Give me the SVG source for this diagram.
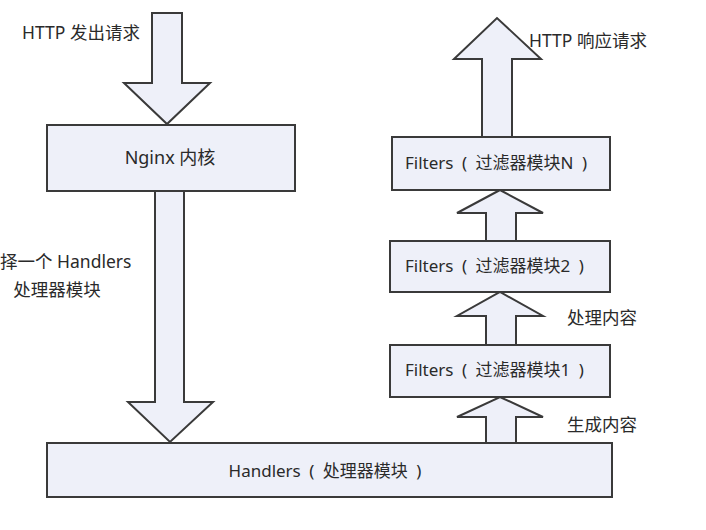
<svg xmlns="http://www.w3.org/2000/svg" width="706" height="530" viewBox="0 0 706 530">
<style>
.box{fill:#eef0f9;stroke:#3a3a3a;stroke-width:2}
.arr{fill:#eef0f9;stroke:#3a3a3a;stroke-width:2;stroke-linejoin:miter}
.t{font-family:"Noto Sans","Noto Sans CJK SC",sans-serif;fill:#2a2a2a;font-size:17px}
.lbl{font-family:"Noto Sans","Noto Sans CJK SC",sans-serif;fill:#2a2a2a;font-size:17.5px}
</style>
<rect width="706" height="530" fill="#fff"/>
<g id="connectors">
<polygon class="arr" points="152,13 182,13 182,83 210,83 167,124 124,83 152,83"/>
<polygon class="arr" points="155,191 184,191 184,402 213,402 170,442 128,402 155,402"/>
<polygon class="arr" points="482,137 512,137 512,59 541,59 497,18 454,59 482,59"/>
<polygon class="arr" points="486,241 516,241 516,213 543,213 500,190 457,213 486,213"/>
<polygon class="arr" points="486,345 516,345 516,316 543,316 500,292 457,316 486,316"/>
<polygon class="arr" points="486,443 516,443 516,417 543,417 500,397 457,417 486,417"/>
</g>
<g id="nginx">
<rect class="box" x="47" y="125" width="248" height="66"/>
<text class="t" x="170" y="164" text-anchor="middle" style="font-size:18px">Nginx 内核</text>
</g>
<g id="filtersN">
<rect class="box" x="392" y="137" width="218" height="53"/>
<text class="t" x="405" y="169">Filters&#8194;(&#8194;过滤器模块N&#8194;)</text>
</g>
<g id="filters2">
<rect class="box" x="390" y="241" width="220" height="51"/>
<text class="t" x="405" y="272">Filters&#8194;(&#8194;过滤器模块2&#8194;)</text>
</g>
<g id="filters1">
<rect class="box" x="390" y="345" width="220" height="52"/>
<text class="t" x="405" y="376">Filters&#8194;(&#8194;过滤器模块1&#8194;)</text>
</g>
<g id="handlers">
<rect class="box" x="47" y="443" width="565" height="54"/>
<text class="t" x="325" y="477" text-anchor="middle">Handlers&#8194;(&#8194;处理器模块&#8194;)</text>
</g>
<g id="labels">
<text class="lbl" x="22" y="39">HTTP 发出请求</text>
<text class="lbl" x="529" y="47">HTTP 响应请求</text>
<text class="lbl" x="0" y="268">择一个 Handlers</text>
<text class="lbl" x="57" y="296" text-anchor="middle">处理器模块</text>
<text class="lbl" x="567" y="324">处理内容</text>
<text class="lbl" x="567" y="431">生成内容</text>
</g>
</svg>
